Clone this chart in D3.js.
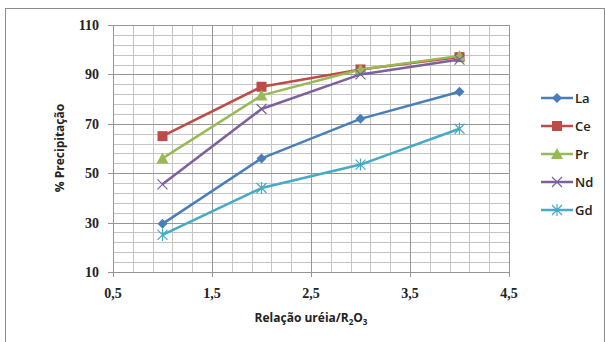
<!DOCTYPE html>
<html>
<head>
<meta charset="utf-8">
<script src="https://cdn.jsdelivr.net/npm/d3@7"></script>
<style>
  body { margin: 0; background: #fff; }
  svg { display: block; }
</style>
</head>
<body>
<svg width="606" height="342"></svg>
<script>
// dados
var relacao = [1, 2, 3, 4];
var nomes = ["La", "Ce", "Pr", "Nd", "Gd"];
var La = [29.5, 56, 72, 83];
var Ce = [65, 85, 92, 97];
var Pr = [56, 81.5, 92, 97.5];
var Nd = [45.5, 76, 90, 96];
var Gd = [25, 44, 53.5, 68];
var xTicks = [0.5, 1.5, 2.5, 3.5, 4.5];
var yTicks = [10, 30, 50, 70, 90, 110];

var cores = ["#4a7ebb", "#be4b48", "#98b954", "#7d60a0", "#46aac5"];
var marcas = ["diamond", "square", "triangle", "x", "star"];
var series = [La, Ce, Pr, Nd, Gd];

var svg = d3.select("svg"),
  width = +svg.attr("width"),
  height = +svg.attr("height");

// moldura
svg.append("rect")
  .attr("x", 5.5).attr("y", 8.5)
  .attr("width", 599).attr("height", 340)
  .attr("fill", "#fff").attr("stroke", "#8c8c8c");

var x = d3.scaleLinear().domain([0.5, 4.5]).range([113, 509]);
var y = d3.scaleLinear().domain([10, 110]).range([272, 25]);

var grade = svg.append("g").attr("class", "grade");
// linhas secundárias
d3.range(0.5, 4.51, 0.2).forEach(function(v) {
  grade.append("line")
    .attr("x1", Math.round(x(v)) + 0.5).attr("x2", Math.round(x(v)) + 0.5)
    .attr("y1", y(110)).attr("y2", y(10))
    .attr("stroke", "#c4c4c4");
});
d3.range(10, 110.1, 4).forEach(function(v) {
  grade.append("line")
    .attr("y1", Math.round(y(v)) + 0.5).attr("y2", Math.round(y(v)) + 0.5)
    .attr("x1", x(0.5)).attr("x2", x(4.5))
    .attr("stroke", "#c4c4c4");
});
// linhas principais
xTicks.forEach(function(v) {
  grade.append("line")
    .attr("x1", Math.round(x(v)) + 0.5).attr("x2", Math.round(x(v)) + 0.5)
    .attr("y1", y(110)).attr("y2", y(10) + 5)
    .attr("stroke", "#969696");
});
yTicks.forEach(function(v) {
  grade.append("line")
    .attr("y1", Math.round(y(v)) + 0.5).attr("y2", Math.round(y(v)) + 0.5)
    .attr("x1", x(0.5) - 5).attr("x2", x(4.5))
    .attr("stroke", "#969696");
});

// rótulos dos eixos
var fmt = function(d) { return String(d).replace(".", ","); };
svg.append("g").selectAll("text").data(yTicks).enter().append("text")
  .attr("x", 99).attr("y", function(d) { return y(d) + 5; })
  .attr("text-anchor", "end")
  .attr("font-family", "Liberation Serif").attr("font-weight", "bold")
  .attr("font-size", 14).attr("fill", "#222")
  .text(function(d) { return d; });
svg.append("g").selectAll("text").data(xTicks).enter().append("text")
  .attr("x", function(d) { return x(d); }).attr("y", 298)
  .attr("text-anchor", "middle")
  .attr("font-family", "Liberation Serif").attr("font-weight", "bold")
  .attr("font-size", 14).attr("fill", "#222")
  .text(fmt);

// títulos
var tx = svg.append("text")
  .attr("x", 311).attr("y", 322)
  .attr("text-anchor", "middle")
  .attr("font-family", "Open Sans").attr("font-weight", "bold")
  .attr("font-size", 12).attr("fill", "#222");
tx.append("tspan").text("Relação uréia/R");
tx.append("tspan").attr("font-size", 8).attr("dy", 3).text("2");
tx.append("tspan").attr("font-size", 12).attr("dy", -3).text("O");
tx.append("tspan").attr("font-size", 8).attr("dy", 3).text("3");

svg.append("text")
  .attr("transform", "translate(64,148) rotate(-90)")
  .attr("text-anchor", "middle")
  .attr("font-family", "Open Sans").attr("font-weight", "bold")
  .attr("font-size", 12).attr("fill", "#222")
  .text("% Precipitação");

function marca(g, tipo, cor, cx, cy) {
  if (tipo == "diamond") {
    g.append("path").attr("d", "M" + cx + "," + (cy - 5) + "L" + (cx + 5) + "," + cy + "L" + cx + "," + (cy + 5) + "L" + (cx - 5) + "," + cy + "Z")
      .attr("fill", cor);
  } else if (tipo == "square") {
    g.append("rect").attr("x", cx - 5).attr("y", cy - 5).attr("width", 10).attr("height", 10)
      .attr("fill", cor);
  } else if (tipo == "triangle") {
    g.append("path").attr("d", "M" + cx + "," + (cy - 6) + "L" + (cx + 6) + "," + (cy + 5) + "L" + (cx - 6) + "," + (cy + 5) + "Z")
      .attr("fill", cor);
  } else {
    var p = "M" + (cx - 5) + "," + (cy - 5) + "L" + (cx + 5) + "," + (cy + 5) +
            "M" + (cx + 5) + "," + (cy - 5) + "L" + (cx - 5) + "," + (cy + 5);
    if (tipo == "star") p += "M" + cx + "," + (cy - 6) + "L" + cx + "," + (cy + 6);
    g.append("path").attr("d", p).attr("stroke", cor).attr("stroke-width", 1.2).attr("fill", "none");
  }
}

var linha = d3.line()
  .x(function(d, i) { return x(relacao[i]); })
  .y(function(d) { return y(d); });

series.forEach(function(s, k) {
  var g = svg.append("g");
  g.append("path").attr("d", linha(s))
    .attr("fill", "none").attr("stroke", cores[k]).attr("stroke-width", 2.5)
    .attr("stroke-linejoin", "round");
  s.forEach(function(v, i) {
    marca(g, marcas[k], cores[k], x(relacao[i]), y(v));
  });
});

// legenda
var leg = svg.append("g");
nomes.forEach(function(n, k) {
  var ly = 98 + k * 28;
  leg.append("line").attr("x1", 541).attr("x2", 573).attr("y1", ly).attr("y2", ly)
    .attr("stroke", cores[k]).attr("stroke-width", 2.5);
  marca(leg, marcas[k], cores[k], 557, ly);
  leg.append("text").attr("x", 575).attr("y", ly + 5)
    .attr("font-family", "Open Sans").attr("font-weight", 600).attr("font-size", 13)
    .attr("fill", "#222").text(n);
});
</script>
</body>
</html>
